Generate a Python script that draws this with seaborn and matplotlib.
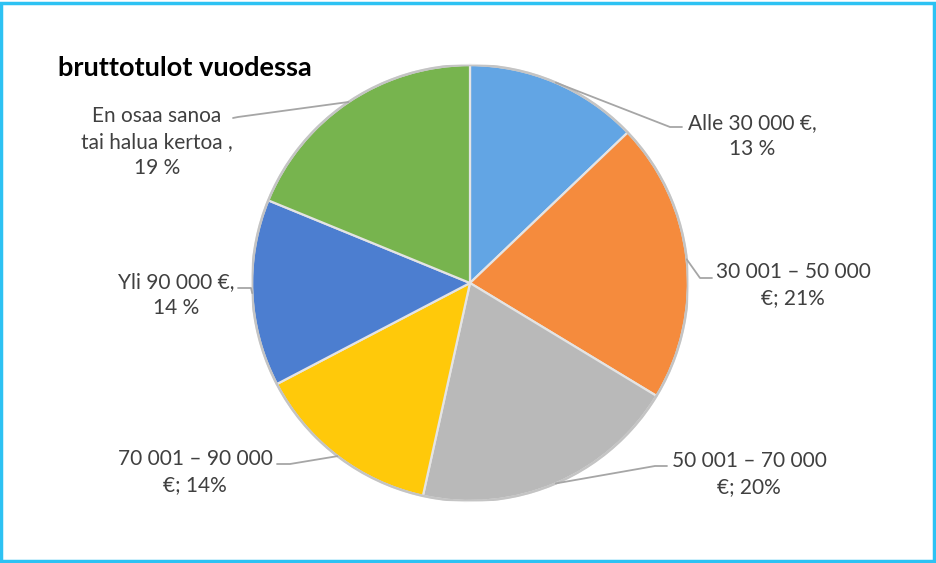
import numpy as np
import matplotlib.pyplot as plt
import seaborn as sns
from matplotlib.patches import Rectangle, Circle

# data, clockwise from 12 o'clock
labels = [
    "Alle 30 000 €,\n13 %",
    "30 001 – 50 000\n€; 21%",
    "50 001 – 70 000\n€; 20%",
    "70 001 – 90 000\n€; 14%",
    "Yli 90 000 €,\n14 %",
    "En osaa sanoa\ntai halua kertoa ,\n19 %",
]
shares = [13, 21, 20, 14, 14, 19]
colors = ["#62A5E4", "#F58B3D", "#B9B9B9", "#FFC90A", "#4C7ED0", "#77B44E"]

# label layout in pixels: elbow of leader, end of leader, text centre
elbows = [(670, 127), (700, 278), (655, 466), (290, 464), (251, 288), (238, 117)]
ends = [(682, 127), (712, 278), (667, 466), (277, 464), (238, 288), (233, 118)]
text_pos = [(752, 136), (793, 285), (749, 474), (195, 472), (176, 295), (157, 142)]

sns.set_theme(style="white")
plt.rcParams["font.family"] = ["Lato", "DejaVu Sans"]

W, H = 937, 563
cx, cy, R = 470, 283, 218

fig = plt.figure(figsize=(W / 100, H / 100), dpi=100)
ax = fig.add_axes([(cx - R) / W, (H - cy - R) / H, 2 * R / W, 2 * R / H])

wedges, _ = ax.pie(shares, colors=colors, startangle=90, counterclock=False,
                   radius=1, wedgeprops=dict(edgecolor="#e4e4e4", linewidth=1.6))
ax.add_patch(Circle((0, 0), 1.0, fill=False, edgecolor="#c4c4c4", lw=1.8))
ax.set_xlim(-1, 1)
ax.set_ylim(-1, 1)
ax.axis("off")


def to_data(p):
    return (p[0] - cx) / R, (cy - p[1]) / R


for w, lab, el, en, tp in zip(wedges, labels, elbows, ends, text_pos):
    ang = np.deg2rad((w.theta1 + w.theta2) / 2)
    x0, y0 = np.cos(ang), np.sin(ang)
    ex, ey = to_data(el)
    nx, ny = to_data(en)
    ax.plot([x0, ex, nx], [y0, ey, ny], color="#a6a6a6", lw=1.3, clip_on=False)
    tx, ty = to_data(tp)
    ax.text(tx, ty, lab, ha="center", va="center", multialignment="center",
            fontsize=15, color="#404040", linespacing=1.35, clip_on=False)

fig.text(58 / W, 1 - 68 / H, "bruttotulot vuodessa", ha="left", va="center",
         fontsize=19.5, fontweight="bold", color="black")

fig.patches.append(Rectangle((1 / W, 2 / H), 933 / W, 558 / H, transform=fig.transFigure,
                             fill=False, edgecolor="#2DC2F3", lw=2.5))

fig.savefig("out.png", dpi=100)
